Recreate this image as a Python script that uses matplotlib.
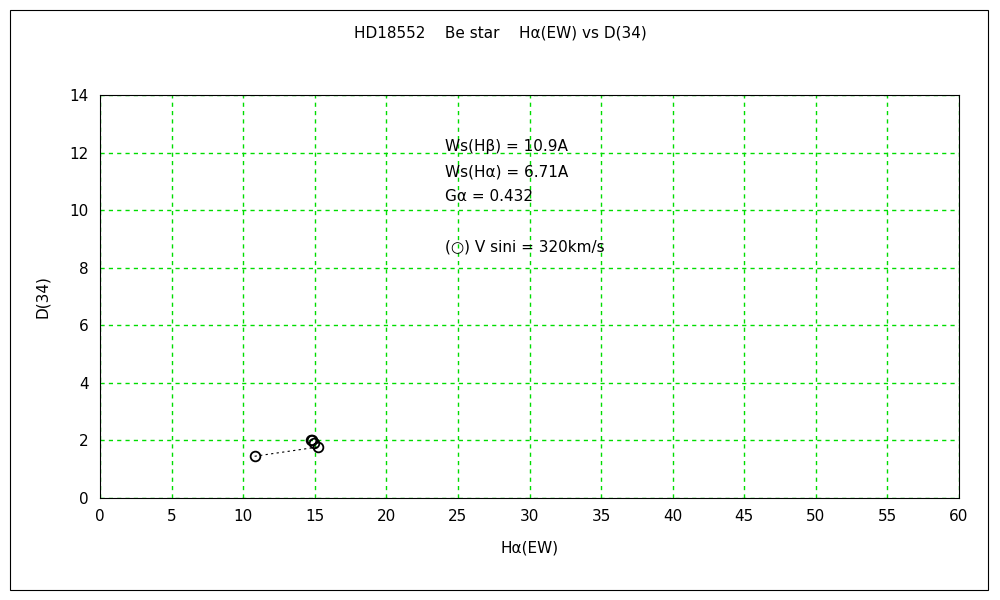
import matplotlib.pyplot as plt
from matplotlib.patches import Rectangle

# H-alpha equivalent width vs D(34)
ha_ew = [10.8, 15.2, 14.95, 14.75, 14.8]
d34 = [1.45, 1.77, 1.9, 2.03, 2.0]

x_ticks = list(range(0, 61, 5))
y_ticks = list(range(0, 15, 2))

notes = ["Ws(H\u03b2) = 10.9A", "Ws(H\u03b1) = 6.71A", "G\u03b1 = 0.432", "", "(\u25cb) V sini = 320km/s"]

fig = plt.figure(figsize=(10, 6), dpi=100)
ax = fig.add_axes([0.1, 0.17, 0.859, 0.6717])

# outer frame
fig.patches.append(Rectangle((0.01, 0.0167), 0.978, 0.9667, transform=fig.transFigure,
                             fill=False, edgecolor="black", linewidth=0.8))

ax.plot(ha_ew, d34, linestyle=(0, (2, 3)), color="black", linewidth=0.8,
        marker="o", markersize=7, markerfacecolor="none", markeredgecolor="black",
        markeredgewidth=1.3)

ax.set_xlim(0, 60)
ax.set_ylim(0, 14)
ax.set_xticks(x_ticks)
ax.set_yticks(y_ticks)
ax.grid(True, color="#00dd00", linestyle=(0, (3, 3)), linewidth=1)
ax.tick_params(labelsize=11, length=0, pad=8)
for s in ax.spines.values():
    s.set_linewidth(0.8)

ax.set_xlabel("H\u03b1(EW)", fontsize=11, labelpad=12)
ax.set_ylabel("D(34)", fontsize=11, labelpad=14)
fig.text(0.5, 0.938, "HD18552    Be star    H\u03b1(EW) vs D(34)", ha="center", fontsize=11)

for i, t in enumerate(notes):
    fig.text(0.445, 0.755 - i * 0.0415, t, fontsize=11, va="center")

fig.savefig("out.png", dpi=100)
